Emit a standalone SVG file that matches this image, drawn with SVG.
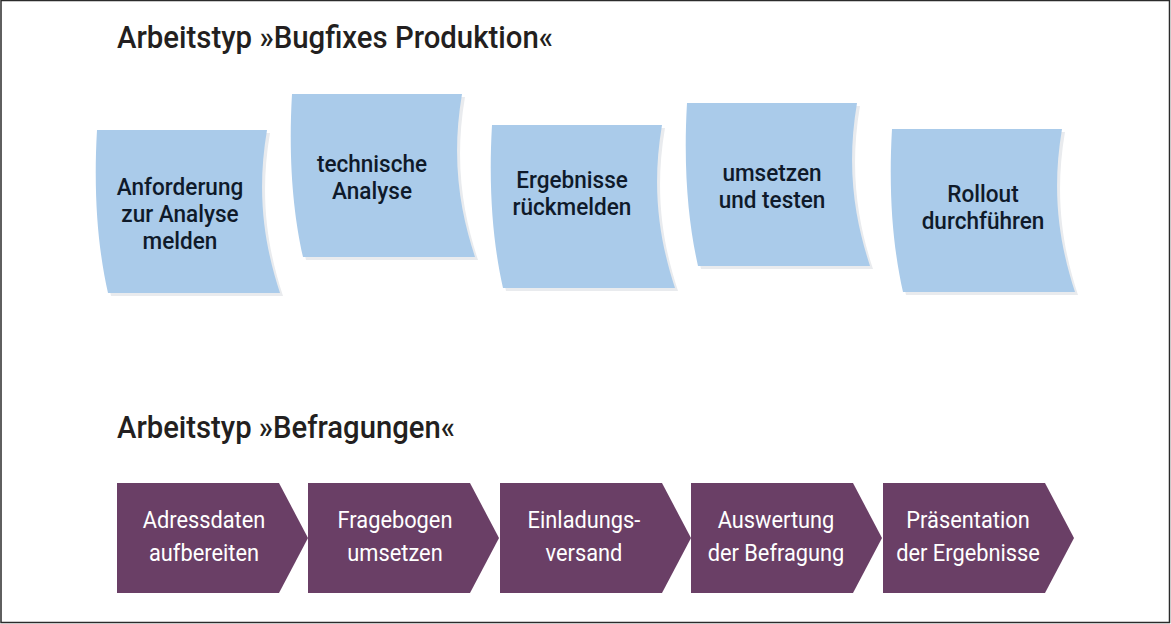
<svg xmlns="http://www.w3.org/2000/svg" xmlns:xlink="http://www.w3.org/1999/xlink" width="1171" height="624" viewBox="0 0 1171 624">
<style>
.title{font-family:"Roboto","Liberation Sans",sans-serif;font-size:32px;font-weight:500;fill:#231f20}
.bt{font-family:"Roboto","Liberation Sans",sans-serif;font-size:24px;font-weight:500;fill:#0f1a2a;text-anchor:middle}
.wt{font-family:"Roboto","Liberation Sans",sans-serif;font-size:24.5px;fill:#ffffff;text-anchor:middle}
.card{fill:#aacbea}
.shadow{fill:#e9ebee}
.chev{fill:#6a3f66}
</style>
<defs>
<path id="card" d="M0,0 L170,0 C158,70 170,123 183,163 L11,163 C2,123 -4,70 0,0 Z"/>
<polygon id="chev" points="0,0 162,0 191,55 162,110 0,110"/>
</defs>
<rect x="1" y="0.5" width="1168.5" height="622" fill="#ffffff" stroke="#2b2b2b" stroke-width="1.5"/>
<text class="title" x="117" y="48" textLength="436" lengthAdjust="spacingAndGlyphs">Arbeitstyp »Bugfixes Produktion«</text>
<text class="title" x="117" y="438" textLength="338" lengthAdjust="spacingAndGlyphs">Arbeitstyp »Befragungen«</text>
<g id="connectors"/>
<g id="n1">
<use xlink:href="#card" class="shadow" transform="translate(100,133)"/>
<use xlink:href="#card" class="card" transform="translate(97,130)"/>
<text class="bt" transform="translate(180,195) scale(0.94,1)">Anforderung</text>
<text class="bt" transform="translate(180,222) scale(0.94,1)">zur Analyse</text>
<text class="bt" transform="translate(180,249) scale(0.94,1)">melden</text>
</g>
<g id="n2">
<use xlink:href="#card" class="shadow" transform="translate(295,97)"/>
<use xlink:href="#card" class="card" transform="translate(292,94)"/>
<text class="bt" transform="translate(372,172) scale(0.94,1)">technische</text>
<text class="bt" transform="translate(372,199) scale(0.94,1)">Analyse</text>
</g>
<g id="n3">
<use xlink:href="#card" class="shadow" transform="translate(495,128)"/>
<use xlink:href="#card" class="card" transform="translate(492,125)"/>
<text class="bt" transform="translate(572,188) scale(0.94,1)">Ergebnisse</text>
<text class="bt" transform="translate(572,215) scale(0.94,1)">rückmelden</text>
</g>
<g id="n4">
<use xlink:href="#card" class="shadow" transform="translate(690,106)"/>
<use xlink:href="#card" class="card" transform="translate(687,103)"/>
<text class="bt" transform="translate(772,181) scale(0.94,1)">umsetzen</text>
<text class="bt" transform="translate(772,208) scale(0.94,1)">und testen</text>
</g>
<g id="n5">
<use xlink:href="#card" class="shadow" transform="translate(895,132)"/>
<use xlink:href="#card" class="card" transform="translate(892,129)"/>
<text class="bt" transform="translate(983,202) scale(0.94,1)">Rollout</text>
<text class="bt" transform="translate(983,229) scale(0.94,1)">durchführen</text>
</g>
<g id="c1">
<use xlink:href="#chev" class="chev" transform="translate(117,483)"/>
<text class="wt" transform="translate(204,528) scale(0.89,1)">Adressdaten</text>
<text class="wt" transform="translate(204,561) scale(0.89,1)">aufbereiten</text>
</g>
<g id="c2">
<use xlink:href="#chev" class="chev" transform="translate(308,483)"/>
<text class="wt" transform="translate(395,528) scale(0.89,1)">Fragebogen</text>
<text class="wt" transform="translate(395,561) scale(0.89,1)">umsetzen</text>
</g>
<g id="c3">
<use xlink:href="#chev" class="chev" transform="translate(500,483)"/>
<text class="wt" transform="translate(584,528) scale(0.89,1)">Einladungs-</text>
<text class="wt" transform="translate(584,561) scale(0.89,1)">versand</text>
</g>
<g id="c4">
<use xlink:href="#chev" class="chev" transform="translate(691,483)"/>
<text class="wt" transform="translate(776,528) scale(0.89,1)">Auswertung</text>
<text class="wt" transform="translate(776,561) scale(0.89,1)">der Befragung</text>
</g>
<g id="c5">
<use xlink:href="#chev" class="chev" transform="translate(883,483)"/>
<text class="wt" transform="translate(968,528) scale(0.89,1)">Präsentation</text>
<text class="wt" transform="translate(968,561) scale(0.89,1)">der Ergebnisse</text>
</g>
</svg>
